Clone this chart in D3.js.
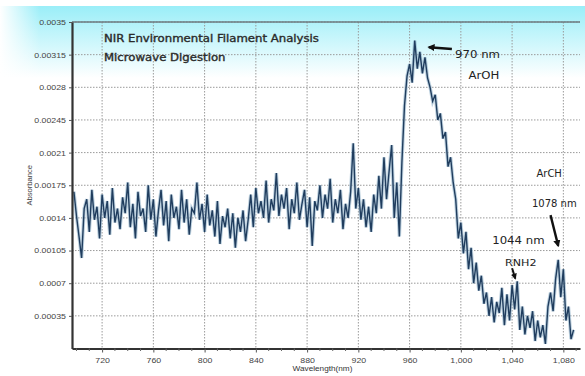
<!DOCTYPE html>
<html>
<head>
<meta charset="utf-8">
<script src="https://cdn.jsdelivr.net/npm/d3@7"></script>
<style>
body{margin:0;background:#fff;}
svg{display:block;font-family:"Liberation Sans",Arial,sans-serif;}
</style>
</head>
<body>
<div id="chart"></div>
<script>
// NIR spectrum, absorbance every 2 nm
const wavelengths=[
698,700,702,704,706,708,710,712,714,716,
718,720,722,724,726,728,730,732,734,736,
738,740,742,744,746,748,750,752,754,756,
758,760,762,764,766,768,770,772,774,776,
778,780,782,784,786,788,790,792,794,796,
798,800,802,804,806,808,810,812,814,816,
818,820,822,824,826,828,830,832,834,836,
838,840,842,844,846,848,850,852,854,856,
858,860,862,864,866,868,870,872,874,876,
878,880,882,884,886,888,890,892,894,896,
898,900,902,904,906,908,910,912,914,916,
918,920,922,924,926,928,930,932,934,936,
938,940,942,944,946,948,950,952,954,956,
958,960,962,964,966,968,970,972,974,976,
978,980,982,984,986,988,990,992,994,996,
998,1000,1002,1004,1006,1008,1010,1012,1014,1016,
1018,1020,1022,1024,1026,1028,1030,1032,1034,1036,
1038,1040,1042,1044,1046,1048,1050,1052,1054,1056,
1058,1060,1062,1064,1066,1068,1070,1072,1074,1076,
1078,1080,1082,1084,1086,1088];
const absorbance=[
0.00168,0.00142,0.00120,0.00097,0.00150,0.00160,0.00125,0.00170,0.00138,0.00152,
0.00118,0.00165,0.00140,0.00158,0.00122,0.00172,0.00135,0.00150,0.00128,0.00162,
0.00145,0.00178,0.00130,0.00155,0.00118,0.00168,0.00142,0.00150,0.00125,0.00175,
0.00138,0.00160,0.00120,0.00148,0.00170,0.00132,0.00158,0.00115,0.00165,0.00140,
0.00152,0.00128,0.00170,0.00135,0.00160,0.00122,0.00150,0.00145,0.00178,0.00138,
0.00155,0.00125,0.00165,0.00132,0.00148,0.00120,0.00158,0.00112,0.00142,0.00130,
0.00150,0.00118,0.00145,0.00108,0.00140,0.00125,0.00148,0.00115,0.00138,0.00165,
0.00130,0.00172,0.00145,0.00158,0.00140,0.00180,0.00135,0.00160,0.00148,0.00188,
0.00142,0.00165,0.00150,0.00172,0.00128,0.00160,0.00145,0.00178,0.00138,0.00155,
0.00170,0.00130,0.00162,0.00110,0.00158,0.00148,0.00175,0.00140,0.00165,0.00150,
0.00182,0.00135,0.00160,0.00145,0.00170,0.00128,0.00155,0.00140,0.00168,0.00220,
0.00150,0.00172,0.00138,0.00160,0.00130,0.00152,0.00125,0.00165,0.00145,0.00185,
0.00150,0.00205,0.00160,0.00190,0.00218,0.00140,0.00178,0.00120,0.00200,0.00260,
0.00292,0.00305,0.00285,0.00330,0.00300,0.00318,0.00295,0.00312,0.00290,0.00280,
0.00265,0.00272,0.00245,0.00252,0.00225,0.00232,0.00195,0.00205,0.00178,0.00160,
0.00118,0.00135,0.00102,0.00125,0.00085,0.00108,0.00070,0.00092,0.00062,0.00078,
0.00048,0.00060,0.00035,0.00055,0.00028,0.00050,0.00038,0.00065,0.00025,0.00058,
0.00030,0.00068,0.00042,0.00072,0.00020,0.00045,0.00015,0.00035,0.00022,0.00040,
0.00008,0.00030,0.00012,0.00025,0.00005,0.00045,0.00060,0.00040,0.00075,0.00095,
0.00055,0.00085,0.00030,0.00045,0.00010,0.00020];

const yTicks=[0.00035,0.0007,0.00105,0.0014,0.00175,0.0021,0.00245,0.0028,0.00315,0.0035];
const yTickLabels=["0.00035","0.0007","0.00105","0.0014","0.00175","0.0021","0.00245","0.0028","0.00315","0.0035"];
const xTicks=[720,760,800,840,880,920,960,1000,1040,1080];
const xTickLabels=["720","760","800","840","880","920","960","1,000","1,040","1,080"];
const xMinorTicks=[700,710,730,740,750,770,780,790,810,820,830,850,860,870,890,900,910,930,940,950,970,980,990,1010,1020,1030,1050,1060,1070,1090];
const titleLines=["NIR Environmental Filament Analysis","Microwave Digestion"];

const W=585,H=376;
const mLeft=72,mRight=580,mTop=22,mBottom=348.5;

const svg=d3.select("#chart").append("svg")
    .attr("width",W)
    .attr("height",H);

const defs=svg.append("defs");
const grad=defs.append("linearGradient")
    .attr("id","bg")
    .attr("x1",0).attr("y1",0).attr("x2",0).attr("y2",1);
grad.append("stop").attr("offset","0%").attr("stop-color","#9aeef8");
grad.append("stop").attr("offset","100%").attr("stop-color","#ffffff");
const gradL=defs.append("linearGradient")
    .attr("id","bgL")
    .attr("x1",0).attr("y1",0).attr("x2",1).attr("y2",0);
gradL.append("stop").attr("offset","0%").attr("stop-color","#ffffff").attr("stop-opacity",1);
gradL.append("stop").attr("offset","100%").attr("stop-color","#ffffff").attr("stop-opacity",0);

svg.append("rect").attr("x",0).attr("y",6).attr("width",W).attr("height",72).attr("fill","url(#bg)");
svg.append("rect").attr("x",0).attr("y",6).attr("width",40).attr("height",72).attr("fill","url(#bgL)");

const x=d3.scaleLinear().domain([696.5,1093]).range([mLeft,mRight]);
const y=d3.scaleLinear().domain([0,0.0035]).range([mBottom,mTop]);

// grid
svg.append("g")
    .selectAll("line")
    .data(yTicks)
    .join("line")
    .attr("x1",mLeft).attr("x2",mRight)
    .attr("y1",d=>y(d)).attr("y2",d=>y(d))
    .attr("stroke","#9a9a9a")
    .attr("stroke-width",1)
    .attr("stroke-dasharray","1.5,1.5");

svg.append("g")
    .selectAll("line")
    .data(xTicks)
    .join("line")
    .attr("x1",d=>x(d)).attr("x2",d=>x(d))
    .attr("y1",mTop).attr("y2",mBottom)
    .attr("stroke","#9a9a9a")
    .attr("stroke-width",1)
    .attr("stroke-dasharray","1.5,1.5");

// frame top
svg.append("line").attr("x1",mLeft).attr("x2",mRight).attr("y1",mTop).attr("y2",mTop)
    .attr("stroke","#6d7b80").attr("stroke-width",1.5);

// spectrum
const pts=wavelengths.map((w,i)=>[w,absorbance[i]]);
const line=d3.line().x(d=>x(d[0])).y(d=>y(d[1]));

svg.append("path")
    .datum(pts)
    .attr("fill","none")
    .attr("stroke","#8fb0c8")
    .attr("stroke-width",3.4)
    .attr("stroke-opacity",0.6)
    .attr("d",line);

svg.append("path")
    .datum(pts)
    .attr("fill","none")
    .attr("stroke","#203d5e")
    .attr("stroke-width",1.4)
    .attr("d",line);

// axes
const yAxis=svg.append("g")
    .attr("transform",`translate(${mLeft},0)`)
    .call(d3.axisLeft(y).tickValues(yTicks).tickSize(3).tickSizeOuter(0).tickFormat((d,i)=>yTickLabels[i]));
yAxis.select(".domain").attr("stroke","#333").attr("stroke-width",2.2);
yAxis.selectAll("text").attr("font-size",7.5).attr("fill","#444");
yAxis.selectAll(".tick line").attr("stroke","#555");

const xAxis=svg.append("g")
    .attr("transform",`translate(0,${mBottom})`)
    .call(d3.axisBottom(x).tickValues(xTicks).tickSize(4).tickSizeOuter(0).tickPadding(5).tickFormat((d,i)=>xTickLabels[i]));
xAxis.select(".domain").attr("stroke","#333").attr("stroke-width",2.2);
xAxis.selectAll("text").attr("font-size",7.5).attr("fill","#444");
xAxis.selectAll(".tick line").attr("stroke","#555");

svg.append("g")
    .selectAll("line")
    .data(xMinorTicks)
    .join("line")
    .attr("x1",d=>x(d)).attr("x2",d=>x(d))
    .attr("y1",mBottom).attr("y2",mBottom+2.5)
    .attr("stroke","#666");

// axis titles
svg.append("text")
    .attr("transform",`translate(32,${y(0.00175)}) rotate(-90)`)
    .attr("text-anchor","middle")
    .attr("font-size",6.5)
    .attr("fill","#444")
    .text("Absorbance");

svg.append("text")
    .attr("x",x(892))
    .attr("y",371)
    .attr("text-anchor","middle")
    .attr("font-size",7)
    .attr("fill","#333")
    .text("Wavelength(nm)");

// title
svg.append("g")
    .selectAll("text")
    .data(titleLines)
    .join("text")
    .attr("x",104)
    .attr("y",(d,i)=>42+i*19)
    .attr("font-family","'DejaVu Sans',sans-serif")
    .attr("font-size",10)
    .attr("fill","#2a2a2a")
    .attr("stroke","#2a2a2a")
    .attr("stroke-width",0.35)
    .text(d=>d);

// annotations
defs.append("marker")
    .attr("id","arr")
    .attr("viewBox","0 -5 10 10")
    .attr("refX",8)
    .attr("refY",0)
    .attr("markerWidth",3)
    .attr("markerHeight",3)
    .attr("orient","auto")
    .append("path")
    .attr("d","M0,-5L10,0L0,5")
    .attr("fill","#111");

const ann=svg.append("g")
    .attr("fill","#222")
    .attr("font-family","'DejaVu Sans',sans-serif")
    .attr("font-size",10);

svg.append("line")
    .attr("x1",x(993)).attr("y1",y(0.00321))
    .attr("x2",x(975)).attr("y2",y(0.00323))
    .attr("stroke","#111").attr("stroke-width",2.4)
    .attr("marker-end","url(#arr)");
ann.append("text").attr("x",x(995.5)).attr("y",y(0.00311)).text("970 nm");
ann.append("text").attr("x",x(1006)).attr("y",y(0.00289)).text("ArOH");

ann.append("text").attr("x",x(1059)).attr("y",y(0.00184)).attr("class","nostretch").text("ArCH");
ann.append("text").attr("x",x(1055.5)).attr("y",y(0.00152)).attr("class","nostretch").text("1078 nm");
svg.append("line")
    .attr("x1",x(1070)).attr("y1",y(0.00143))
    .attr("x2",x(1076)).attr("y2",y(0.00110))
    .attr("stroke","#111").attr("stroke-width",2.4)
    .attr("marker-end","url(#arr)");

ann.append("text").attr("x",x(1024.5)).attr("y",y(0.00112)).text("1044 nm");
ann.append("text").attr("x",x(1034.5)).attr("y",y(0.00088)).attr("font-size",9.5).text("RNH2");
svg.append("line")
    .attr("x1",x(1040)).attr("y1",y(0.00086))
    .attr("x2",x(1042.5)).attr("y2",y(0.00075))
    .attr("stroke","#111").attr("stroke-width",2)
    .attr("marker-end","url(#arr)");

// the source picture is a bit wider than tall, so text reads stretched
svg.selectAll("text:not(.nostretch)").each(function(){
    const len=this.getComputedTextLength();
    d3.select(this)
        .attr("textLength",len*1.17)
        .attr("lengthAdjust","spacingAndGlyphs");
});
</script>
</body>
</html>
